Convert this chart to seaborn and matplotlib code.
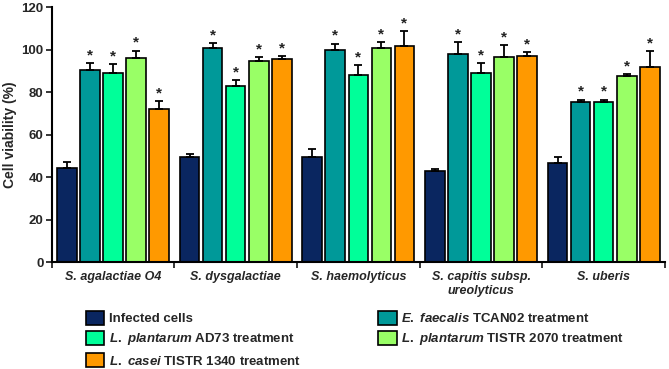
import numpy as np
import pandas as pd
import matplotlib
matplotlib.use("Agg")
import matplotlib.pyplot as plt
from matplotlib.patches import Patch
import seaborn as sns

# ---------------- data ----------------
strains = ["S. agalactiae O4", "S. dysgalactiae", "S. haemolyticus",
           "S. capitis subsp.\nureolyticus", "S. uberis"]
treatments = ["Infected cells", "E. faecalis TCAN02 treatment",
              "L. plantarum AD73 treatment", "L. plantarum TISTR 2070 treatment",
              "L. casei TISTR 1340 treatment"]
legend_labels = ["Infected cells",
                 r"$\it{E.\ faecalis}$ TCAN02 treatment",
                 r"$\it{L.\ plantarum}$ AD73 treatment",
                 r"$\it{L.\ plantarum}$ TISTR 2070 treatment",
                 r"$\it{L.\ casei}$ TISTR 1340 treatment"]
infected = [44.3, 49.8, 49.6, 42.9, 46.8]
efaecalis = [90.6, 101.1, 100.0, 98.1, 75.7]
ad73 = [89.2, 83.2, 88.2, 89.0, 75.7]
tistr2070 = [96.2, 94.7, 101.1, 96.5, 87.6]
casei = [72.1, 95.6, 101.9, 96.9, 92.0]
err_infected = [2.8, 1.3, 3.8, 1.1, 3.0]
err_efaecalis = [3.4, 2.0, 3.0, 5.7, 0.9]
err_ad73 = [4.0, 2.4, 4.6, 5.0, 0.9]
err_tistr2070 = [3.5, 2.0, 2.7, 5.9, 1.1]
err_casei = [4.0, 1.7, 7.1, 2.1, 7.5]
significant = [False, True, True, True, True]
colors = ["#0a2660", "#009999", "#00ff99", "#99ff66", "#ff9900"]

values = [infected, efaecalis, ad73, tistr2070, casei]
errors = [err_infected, err_efaecalis, err_ad73, err_tistr2070, err_casei]

rows = []
for t, vals in zip(treatments, values):
    for s, v in zip(strains, vals):
        rows.append({"strain": s, "treatment": t, "viability": v})
df = pd.DataFrame(rows)

# ---------------- style ----------------
sns.set_style("ticks")
plt.rcParams["font.family"] = ["Liberation Sans", "DejaVu Sans"]
plt.rcParams["font.weight"] = "bold"
plt.rcParams["mathtext.fontset"] = "custom"
plt.rcParams["mathtext.it"] = "Liberation Sans:italic:bold"
plt.rcParams["mathtext.rm"] = "Liberation Sans:bold"

fig = plt.figure(figsize=(6.69, 3.69), dpi=100)
ax = fig.add_axes([0.0773, 0.289, 0.9167, 0.691])

sns.barplot(data=df, x="strain", y="viability", hue="treatment",
            hue_order=treatments, order=strains, palette=colors,
            width=0.94, gap=0.15, edgecolor="black", linewidth=1.2,
            errorbar=None, legend=False, saturation=1, ax=ax)

bar_conts = list(ax.containers)
for i, cont in enumerate(bar_conts):
    for j, bar in enumerate(cont):
        xc = bar.get_x() + bar.get_width() / 2
        v = values[i][j]
        e = errors[i][j]
        ax.errorbar(xc, v, yerr=[[0], [e]], fmt="none", ecolor="black",
                    elinewidth=1.3, capsize=3, capthick=1.3, zorder=1)
        if significant[i]:
            ax.text(xc, v + e + 0.3, "*", ha="center", va="bottom",
                    fontsize=11, fontweight="bold", color="#222222")

ax.set_ylim(0, 120)
ax.set_xlim(-0.5, 4.5)
ax.set_yticks(np.arange(0, 121, 20))
ax.set_ylabel("Cell viability (%)", fontsize=10, fontweight="bold", labelpad=3)
ax.set_xlabel("")
ax.tick_params(axis="y", direction="out", length=4, width=1.3, labelsize=9.5, pad=2)
ax.set_xticks(range(len(strains)))
ax.set_xticklabels(strains, fontstyle="italic", fontweight="bold", fontsize=9,
                   linespacing=1.25)
ax.tick_params(axis="x", which="major", length=0, pad=6)
ax.set_xticks(np.arange(-0.5, 4.6, 1.0), minor=True)
ax.tick_params(axis="x", which="minor", direction="out", length=4, width=1.3)
for sp in ["top", "right"]:
    ax.spines[sp].set_visible(False)
for sp in ["left", "bottom"]:
    ax.spines[sp].set_linewidth(1.5)
    ax.spines[sp].set_color("black")

order = [0, 2, 4, 1, 3]
handles = [Patch(facecolor=colors[k], edgecolor="black", linewidth=1.2) for k in order]
labels = [legend_labels[k] for k in order]
fig.legend(handles, labels, loc="upper left", bbox_to_anchor=(0.128, 0.158),
           ncol=2, frameon=False, fontsize=9.5, handlelength=1.4,
           handleheight=1.25, handletextpad=0.35, labelspacing=0.45,
           columnspacing=5.85, borderpad=0, borderaxespad=0)

fig.savefig("out.png", dpi=100)
